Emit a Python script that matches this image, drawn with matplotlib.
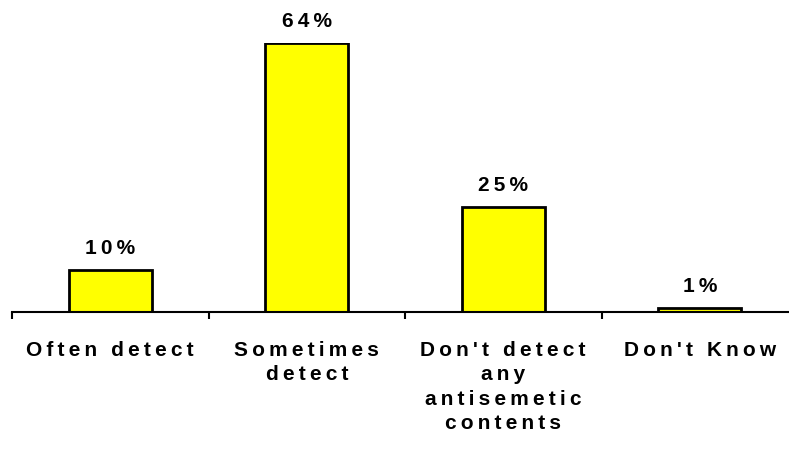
import matplotlib.pyplot as plt
import numpy as np

plt.rcParams['font.family'] = ['Liberation Sans', 'DejaVu Sans']

categorias = ["Often detect", "Sometimes\ndetect", "Don't detect\nany\nantisemetic\ncontents", "Don't Know"]
valores = [10, 64, 25, 1]
etiquetas = ['10%', '64%', '25%', '1%']

# el original tiene el texto muy espaciado entre letras
def espaciar(s):
    return '\n'.join('\u2009'.join(linea) for linea in s.split('\n'))

fig = plt.figure(figsize=(7.89, 4.55), dpi=100)
ax = fig.add_axes([12 / 789, 143 / 455, 786 / 789, 269 / 455])

x = np.arange(len(categorias))
barras = ax.bar(x, valores, width=0.42, color='#ffff00', edgecolor='black', linewidth=2)

for barra, txt in zip(barras, etiquetas):
    ax.text(barra.get_x() + barra.get_width() / 2, barra.get_height() + 5.0, espaciar(txt),
            ha='center', va='center', fontsize=15, fontweight='bold', clip_on=False)

ax.set_xlim(-0.5, len(categorias) - 0.5)
ax.set_ylim(0, 64)
ax.set_xticks(np.arange(len(categorias) + 1) - 0.5)
ax.set_xticks(x, minor=True)
ax.set_xticklabels([])
ax.set_xticklabels([espaciar(c) for c in categorias], minor=True, fontsize=15,
                   fontweight='bold', linespacing=1.35)
ax.tick_params(axis='x', which='major', direction='out', length=5, width=1.5)
ax.tick_params(axis='x', which='minor', length=0, pad=21)
ax.set_yticks([])

for lado in ['top', 'right', 'left']:
    ax.spines[lado].set_visible(False)
ax.spines['bottom'].set_linewidth(1.5)
ax.patch.set_visible(False)

plt.savefig('out.png', dpi=100)
